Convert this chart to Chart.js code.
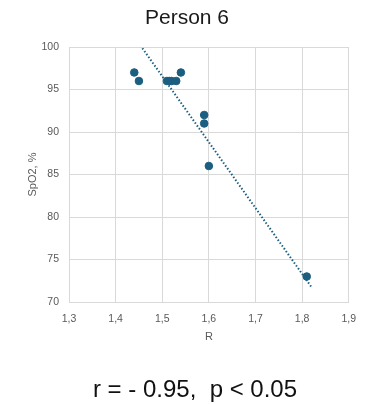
<!DOCTYPE html>
<html>
<head>
<meta charset="utf-8">
<script src="https://cdn.jsdelivr.net/npm/chart.js@4.4.1/dist/chart.umd.min.js"></script>
<style>
  html, body { margin: 0; padding: 0; background: #ffffff; }
  #wrap { position: relative; width: 367px; height: 404px; }
  #chart { position: absolute; left: 0; top: 0; }
  .label {
    position: absolute; transform: translateX(-50%);
    font-family: "Liberation Sans", Arial, sans-serif;
    white-space: pre;
  }
  #title { left: 187px; top: 5px; font-size: 21px; line-height: 24px; color: #1a1a1a; }
  #stats { left: 195px; top: 374px; font-size: 24px; line-height: 30px; color: #111111; }
</style>
</head>
<body>
<div id="wrap">
  <canvas id="chart" width="367" height="404"></canvas>
  <div id="title" class="label">Person 6</div>
  <div id="stats" class="label">r = - 0.95,  p &lt; 0.05</div>
</div>
<script>
// Measurements for one subject: ratio R against pulse-oximeter SpO2
const rValues    = [1.44, 1.45, 1.51, 1.515, 1.52, 1.53, 1.54, 1.59, 1.59, 1.60, 1.81];
const spo2Values = [97,   96,   96,   96,    96,   96,   97,   92,   91,   86,   73];

const xTicks = [1.3, 1.4, 1.5, 1.6, 1.7, 1.8, 1.9];
const yTicks = [70, 75, 80, 85, 90, 95, 100];

const xTitle = 'R';
const yTitle = 'SpO2, %';

const pointColor = '#1c5e80';
const gridColor = '#d9d9d9';
const tickColor = '#595959';

// Trend projected a little past the last measurement
const forecastForward = 0.01;

// Linear trend (least squares, R regressed on SpO2), drawn across the R range
function trendLine(xs, ys) {
  const n = xs.length;
  const mx = xs.reduce((a, b) => a + b, 0) / n;
  const my = ys.reduce((a, b) => a + b, 0) / n;
  let sxy = 0, syy = 0;
  for (let i = 0; i < n; i++) {
    sxy += (xs[i] - mx) * (ys[i] - my);
    syy += (ys[i] - my) * (ys[i] - my);
  }
  const slope = syy / sxy; // dSpO2 / dR
  const lo = Math.min(...xs), hi = Math.max(...xs) + forecastForward;
  return [lo, hi].map(x => ({ x: x, y: my + slope * (x - mx) }));
}

const points = rValues.map((x, i) => ({ x: x, y: spo2Values[i] }));
const trend = trendLine(rValues, spo2Values);

const fontFamily = '"Liberation Sans", Arial, sans-serif';

new Chart(document.getElementById('chart'), {
  type: 'scatter',
  data: {
    datasets: [
      {
        type: 'line',
        data: trend,
        borderColor: pointColor,
        borderWidth: 2,
        borderDash: [1.5, 2],
        pointRadius: 0,
        fill: false,
        order: 2
      },
      {
        data: points,
        backgroundColor: pointColor,
        borderColor: pointColor,
        pointRadius: 3.8,
        pointHoverRadius: 3.8,
        order: 1
      }
    ]
  },
  options: {
    responsive: false,
    animation: false,
    layout: { padding: { left: 7, right: 18, top: 47, bottom: 57 } },
    plugins: {
      legend: { display: false },
      tooltip: { enabled: false },
      title: { display: false }
    },
    scales: {
      x: {
        type: 'linear',
        min: 1.3,
        max: 1.9,
        afterBuildTicks: s => { s.ticks = xTicks.map(v => ({ value: v })); },
        afterFit: s => { s.height = 45; },
        grid: { color: gridColor, lineWidth: 1, drawTicks: false },
        border: { color: gridColor },
        ticks: {
          color: tickColor,
          padding: 11,
          font: { family: fontFamily, size: 10.5 },
          callback: v => v.toFixed(1).replace('.', ',')
        },
        title: {
          display: true,
          text: xTitle,
          color: tickColor,
          font: { family: fontFamily, size: 11 },
          padding: { top: 0, bottom: 3.5 }
        }
      },
      y: {
        type: 'linear',
        min: 70,
        max: 100,
        afterBuildTicks: s => { s.ticks = yTicks.map(v => ({ value: v })); },
        afterFit: s => { s.width = 62; },
        grid: { color: gridColor, lineWidth: 1, drawTicks: false },
        border: { color: gridColor },
        ticks: {
          color: tickColor,
          padding: 10,
          font: { family: fontFamily, size: 10.5 }
        },
        title: {
          display: true,
          text: yTitle,
          color: tickColor,
          font: { family: fontFamily, size: 11 },
          padding: { top: 19, bottom: 0 }
        }
      }
    }
  }
});
</script>
</body>
</html>
